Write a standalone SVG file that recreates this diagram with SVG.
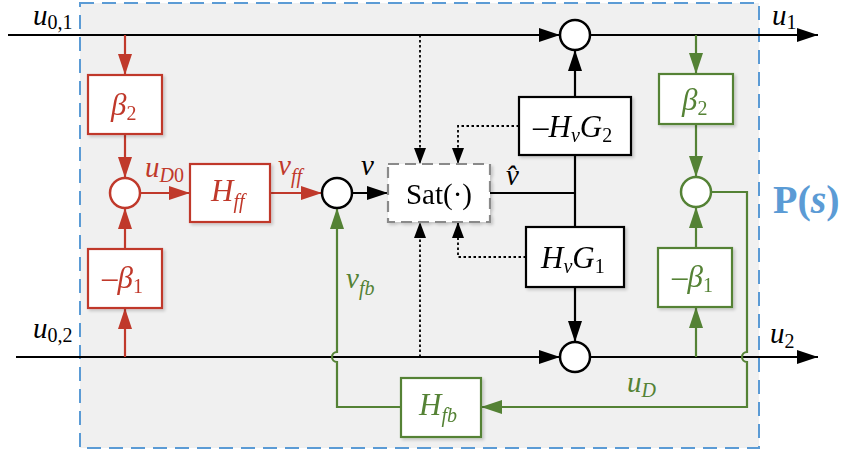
<svg xmlns="http://www.w3.org/2000/svg" width="844" height="454" viewBox="0 0 844 454">
<style>
.m{font-family:"Liberation Serif","Times New Roman",serif;font-style:italic;font-size:29px}
.bm{font-size:31px}
.up{font-style:normal}
.sb{font-size:20px}
.blk{fill:#000}
.red{fill:#c0392b}
.grn{fill:#548235}
.bx{fill:#fff;stroke-width:2.2}
.bxk{stroke:#000}
.bxr{stroke:#c0392b}
.bxg{stroke:#548235}
.ln{fill:none;stroke-width:2.2}
.lk{stroke:#000}
.lr{stroke:#c0392b}
.lg{stroke:#548235}
.dot{fill:none;stroke:#000;stroke-width:1.8;stroke-dasharray:2.5 2.5}
.sum{fill:#fff;stroke-width:2.5}
</style>
<defs>
<marker id="ak" markerUnits="userSpaceOnUse" markerWidth="21" markerHeight="14" refX="21" refY="7" orient="auto"><path d="M0,0 L21,7 L0,14 z" fill="#000"/></marker>
<marker id="ar" markerUnits="userSpaceOnUse" markerWidth="21" markerHeight="14" refX="21" refY="7" orient="auto"><path d="M0,0 L21,7 L0,14 z" fill="#c0392b"/></marker>
<marker id="ag" markerUnits="userSpaceOnUse" markerWidth="21" markerHeight="14" refX="21" refY="7" orient="auto"><path d="M0,0 L21,7 L0,14 z" fill="#548235"/></marker>
<marker id="ad" markerUnits="userSpaceOnUse" markerWidth="16" markerHeight="12" refX="16" refY="6" orient="auto"><path d="M0,0 L16,6 L0,12 z" fill="#000"/></marker>
<filter id="sh" x="-10%" y="-10%" width="130%" height="130%"><feDropShadow dx="2" dy="2" stdDeviation="1.5" flood-color="#000" flood-opacity="0.18"/></filter>
</defs>

<g id="frame">
<rect x="80" y="3" width="679" height="445" fill="#f0f0f0" stroke="#5b9bd5" stroke-width="2" stroke-dasharray="14 8"/>
<text x="773" y="213" font-family="Liberation Serif,serif" font-size="40" font-weight="bold" fill="#5b9bd5">P(<tspan font-style="italic">s</tspan>)</text>
</g>

<g id="connectors">
<path class="ln lk" d="M8,35 H560" marker-end="url(#ak)"/>
<path class="ln lk" d="M590,35 H818" marker-end="url(#ak)"/>
<path class="ln lk" d="M16,357 H560" marker-end="url(#ak)"/>
<path class="ln lk" d="M590,357 H818" marker-end="url(#ak)"/>
<path class="ln lr" d="M125,35 V75" marker-end="url(#ar)"/>
<path class="ln lr" d="M125,134 V178" marker-end="url(#ar)"/>
<path class="ln lr" d="M125,357 V308" marker-end="url(#ar)"/>
<path class="ln lr" d="M125,249 V208" marker-end="url(#ar)"/>
<path class="ln lr" d="M140,193 H190" marker-end="url(#ar)"/>
<path class="ln lr" d="M270,193 H322" marker-end="url(#ar)"/>
<path class="ln lk" d="M352,193 H388" marker-end="url(#ak)"/>
<path class="ln lk" d="M490,193 H575"/>
<path class="ln lk" d="M575,155 V227"/>
<path class="ln lk" d="M575,97 V50" marker-end="url(#ak)"/>
<path class="ln lk" d="M575,287 V342" marker-end="url(#ak)"/>
<path class="dot" d="M420,35 V164" marker-end="url(#ad)"/>
<path class="dot" d="M519,126 H458 V164" marker-end="url(#ad)"/>
<path class="dot" d="M420,357 V222" marker-end="url(#ad)"/>
<path class="dot" d="M526,257 H458 V222" marker-end="url(#ad)"/>
<path class="ln lg" d="M696,35 V74" marker-end="url(#ag)"/>
<path class="ln lg" d="M696,124 V177" marker-end="url(#ag)"/>
<path class="ln lg" d="M696,357 V307" marker-end="url(#ag)"/>
<path class="ln lg" d="M696,248 V207" marker-end="url(#ag)"/>
<path class="ln lg" d="M711,192 H747 V352 A5,5 0 0 0 747,362 V407 H481" marker-end="url(#ag)"/>
<path class="ln lg" d="M401,407 H337 V362 A5,5 0 0 1 337,352 V208" marker-end="url(#ag)"/>
<text class="m blk" x="33" y="25" font-size="28">u<tspan class="sb up" dy="4">0,1</tspan></text>
<text class="m blk" x="33" y="338">u<tspan class="sb up" dy="4">0,2</tspan></text>
<text class="m blk" x="772" y="25" font-size="28">u<tspan class="sb up" dy="4">1</tspan></text>
<text class="m blk" x="770" y="343">u<tspan class="sb up" dy="5">2</tspan></text>
<text class="m red" x="145" y="177">u<tspan class="sb" dy="5">D</tspan><tspan class="sb up">0</tspan></text>
<text class="m red" x="278" y="175">v<tspan class="sb" dy="8">ff</tspan></text>
<text class="m blk" x="361" y="175">v</text>
<text class="m blk" x="506" y="185">v&#x302;</text>
<text class="m grn" x="346" y="288">v<tspan class="sb" dy="7">fb</tspan></text>
<text class="m grn" x="627" y="392">u<tspan class="sb" dy="5">D</tspan></text>
</g>

<g id="beta2-red" filter="url(#sh)">
<rect class="bx bxr" x="88" y="75" width="74" height="59"/>
<text class="m bm red" x="111" y="115">β<tspan class="sb up" dy="5">2</tspan></text>
</g>
<g id="sum-red">
<circle class="sum" cx="125" cy="193" r="15" stroke="#c0392b"/>
</g>
<g id="beta1-red" filter="url(#sh)">
<rect class="bx bxr" x="88" y="249" width="74" height="59"/>
<text class="m bm red" x="102" y="288"><tspan class="up">–</tspan>β<tspan class="sb up" dy="5">1</tspan></text>
</g>
<g id="Hff" filter="url(#sh)">
<rect class="bx bxr" x="190" y="164" width="80" height="58"/>
<text class="m bm red" x="211" y="201">H<tspan class="sb" dy="7">ff</tspan></text>
</g>
<g id="sum-v">
<circle class="sum" cx="337" cy="193" r="15" stroke="#000"/>
</g>
<g id="sat" filter="url(#sh)">
<rect x="388" y="164" width="102" height="58" fill="#fff" stroke="#8a8a8a" stroke-width="2.2" stroke-dasharray="11 6"/>
<text class="m up blk" x="439" y="204" font-size="31" text-anchor="middle">Sat(·)</text>
</g>
<g id="HvG2" filter="url(#sh)">
<rect class="bx bxk" x="519" y="97" width="112" height="58"/>
<text class="m bm blk" x="533" y="137"><tspan class="up">–</tspan>H<tspan class="sb" dy="5">v</tspan><tspan dy="-5">G</tspan><tspan class="sb up" dy="5">2</tspan></text>
</g>
<g id="HvG1" filter="url(#sh)">
<rect class="bx bxk" x="526" y="227" width="98" height="60"/>
<text class="m bm blk" x="541" y="268">H<tspan class="sb" dy="5">v</tspan><tspan dy="-5">G</tspan><tspan class="sb up" dy="5">1</tspan></text>
</g>
<g id="sum-u1">
<circle class="sum" cx="575" cy="35" r="15" stroke="#000"/>
</g>
<g id="sum-u2">
<circle class="sum" cx="575" cy="357" r="15" stroke="#000"/>
</g>
<g id="beta2-green" filter="url(#sh)">
<rect class="bx bxg" x="659" y="74" width="74" height="50"/>
<text class="m bm grn" x="682" y="110">β<tspan class="sb up" dy="5">2</tspan></text>
</g>
<g id="sum-green">
<circle class="sum" cx="696" cy="192" r="15" stroke="#548235"/>
</g>
<g id="beta1-green" filter="url(#sh)">
<rect class="bx bxg" x="658" y="248" width="74" height="59"/>
<text class="m bm grn" x="672" y="287"><tspan class="up">–</tspan>β<tspan class="sb up" dy="5">1</tspan></text>
</g>
<g id="Hfb" filter="url(#sh)">
<rect class="bx bxg" x="401" y="378" width="80" height="59"/>
<text class="m bm grn" x="419" y="415">H<tspan class="sb" dy="7">fb</tspan></text>
</g>
</svg>
